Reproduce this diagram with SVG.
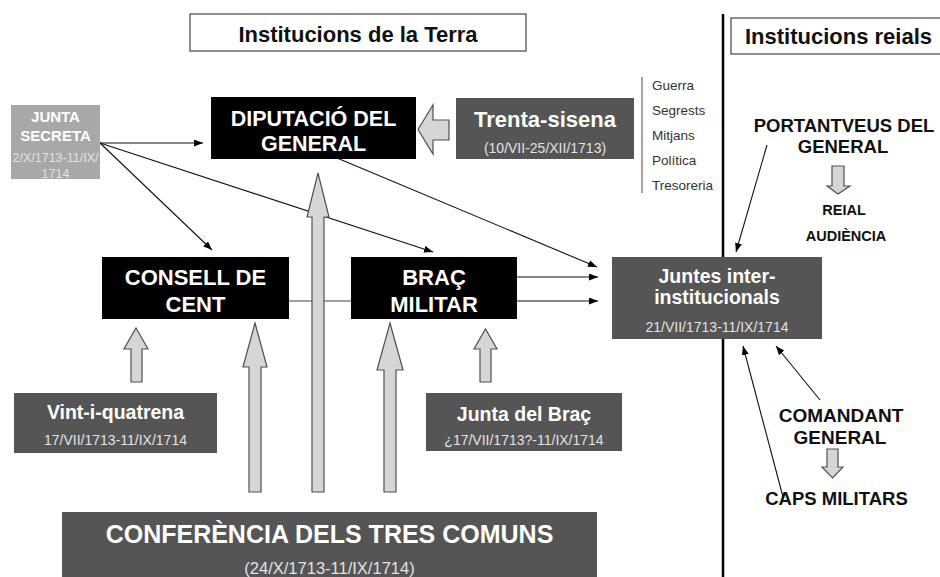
<svg xmlns="http://www.w3.org/2000/svg" width="940" height="577" viewBox="0 0 940 577">
<defs>
<style>
.t{font-family:"Liberation Sans",Arial,sans-serif;text-anchor:middle}
.b{font-weight:bold}
.w{fill:#fff}
.d{fill:#e2e2e2}
.k{fill:#111}
.blk{fill:#000}
.dg{fill:#555}
.ba{fill:#d6d6d6;stroke:#505050;stroke-width:1.2;stroke-linejoin:miter}
.ln{stroke:#111;stroke-width:1.1;fill:none}
.ttl{fill:#fff;stroke:#444;stroke-width:1.2}
</style>
<marker id="ah" viewBox="0 0 9 7" refX="9" refY="3.5" markerWidth="9" markerHeight="7" markerUnits="userSpaceOnUse" orient="auto">
<path d="M0,0 L9,3.5 L0,7 z" fill="#000"/>
</marker>
</defs>
<rect width="940" height="577" fill="#fff"/>

<g id="divider">
<line x1="723" y1="14" x2="723" y2="577" stroke="#000" stroke-width="2.5"/>
</g>

<g id="title-terra">
<rect class="ttl" x="190" y="14" width="336" height="37"/>
<text class="t b k" x="358" y="42" font-size="22">Institucions de la Terra</text>
</g>
<g id="title-reials">
<rect class="ttl" x="731" y="18" width="212" height="36"/>
<text class="t b k" x="838.5" y="43.5" font-size="22">Institucions reials</text>
</g>

<g id="connectors">
<line class="ln" x1="100" y1="143" x2="203" y2="143" marker-end="url(#ah)"/>
<line class="ln" x1="100" y1="143" x2="212" y2="250" marker-end="url(#ah)"/>
<line class="ln" x1="100" y1="143" x2="433" y2="252" marker-end="url(#ah)"/>
<line class="ln" x1="337" y1="158" x2="597" y2="267" marker-end="url(#ah)"/>
<line class="ln" x1="517" y1="277" x2="598" y2="277" marker-end="url(#ah)"/>
<line class="ln" x1="517" y1="301" x2="598" y2="301" marker-end="url(#ah)"/>
<line x1="289" y1="301" x2="351" y2="301" stroke="#444" stroke-width="1.2"/>
<line class="ln" x1="767" y1="145" x2="736" y2="252" marker-end="url(#ah)"/>
<line class="ln" x1="820" y1="400" x2="776" y2="346" marker-end="url(#ah)"/>
<line class="ln" x1="783" y1="497" x2="743" y2="346" marker-end="url(#ah)"/>
</g>

<g id="block-arrows">
<polygon class="ba" points="418,129.5 433,105 433,120 449,120 449,140 433,140 433,154"/>
<polygon class="ba" points="318,173 329,217 324,217 324,492 312,492 312,217 307,217"/>
<polygon class="ba" points="255,323 267,367 261,367 261,492 249,492 249,367 243,367"/>
<polygon class="ba" points="390,323 403,370 396,370 396,492 384,492 384,370 377,370"/>
<polygon class="ba" points="136,328 148,349 142,349 142,382 131,382 131,349 124,349"/>
<polygon class="ba" points="485.5,329 497,349 491,349 491,382 480,382 480,349 474,349"/>
<polygon class="ba" points="832,166 844,166 844,186 850,186 838,194 827,186 832,186"/>
<polygon class="ba" points="827,449 838,449 838,467 843,467 832.5,478 822,467 827,467"/>
</g>

<g id="junta-secreta">
<rect x="11" y="105" width="89" height="74" fill="#a8a8a8"/>
<text class="t b w" x="55.5" y="122" font-size="15">JUNTA</text>
<text class="t b w" x="55.5" y="141" font-size="15">SECRETA</text>
<text class="t d" x="55.5" y="162" font-size="12.5">2/X/1713-11/IX/</text>
<text class="t d" x="55.5" y="178" font-size="12.5">1714</text>
</g>

<g id="diputacio">
<rect class="blk" x="211" y="97" width="205" height="62"/>
<text class="t b w" x="313.5" y="125.5" font-size="21.5">DIPUTACIÓ DEL</text>
<text class="t b w" x="313.5" y="151" font-size="21.5">GENERAL</text>
</g>

<g id="trenta-sisena">
<rect class="dg" x="456" y="98" width="178" height="61"/>
<text class="t b w" x="545" y="126.5" font-size="22">Trenta-sisena</text>
<text class="t d" x="545" y="153" font-size="14">(10/VII-25/XII/1713)</text>
</g>

<g id="comissions">
<line x1="642" y1="77" x2="642" y2="193" stroke="#666" stroke-width="1.2"/>
<g font-family="Liberation Sans,Arial,sans-serif" font-size="13.5" fill="#333">
<text x="652" y="90">Guerra</text>
<text x="652" y="115">Segrests</text>
<text x="652" y="140">Mitjans</text>
<text x="652" y="165">Política</text>
<text x="652" y="190">Tresoreria</text>
</g>
</g>

<g id="consell-de-cent">
<rect class="blk" x="102" y="257" width="187" height="62"/>
<text class="t b w" x="195.5" y="285" font-size="22">CONSELL DE</text>
<text class="t b w" x="195.5" y="312" font-size="22">CENT</text>
</g>

<g id="brac-militar">
<rect class="blk" x="351" y="257" width="166" height="62"/>
<text class="t b w" x="434" y="285" font-size="22">BRAÇ</text>
<text class="t b w" x="434" y="312" font-size="22">MILITAR</text>
</g>

<g id="juntes">
<rect class="dg" x="612" y="257" width="210" height="82"/>
<text class="t b w" x="717" y="283" font-size="19.5">Juntes inter-</text>
<text class="t b w" x="717" y="304" font-size="19.5">institucionals</text>
<text class="t d" x="717" y="332" font-size="14">21/VII/1713-11/IX/1714</text>
</g>

<g id="vint-i-quatrena">
<rect class="dg" x="14" y="393" width="203" height="60"/>
<text class="t b w" x="115.5" y="419" font-size="19.5">Vint-i-quatrena</text>
<text class="t d" x="115.5" y="445" font-size="14">17/VII/1713-11/IX/1714</text>
</g>

<g id="junta-del-brac">
<rect class="dg" x="426" y="393" width="196" height="58"/>
<text class="t b w" x="524" y="421" font-size="19.5">Junta del Braç</text>
<text class="t d" x="524" y="445" font-size="14">¿17/VII/1713?-11/IX/1714</text>
</g>

<g id="conferencia">
<rect class="dg" x="62" y="512" width="535" height="70"/>
<text class="t b w" x="329.5" y="543" font-size="25">CONFERÈNCIA DELS TRES COMUNS</text>
<text class="t d" x="329.5" y="574" font-size="16.5">(24/X/1713-11/IX/1714)</text>
</g>

<g id="portantveus">
<text class="t b k" x="844" y="132" font-size="18.5">PORTANTVEUS DEL</text>
<text class="t b k" x="843" y="153" font-size="18.5">GENERAL</text>
</g>

<g id="reial-audiencia">
<text class="t b k" x="844" y="215" font-size="14.5">REIAL</text>
<text class="t b k" x="846" y="241" font-size="14.5">AUDIÈNCIA</text>
</g>

<g id="comandant">
<text class="t b k" x="841" y="422" font-size="19">COMANDANT</text>
<text class="t b k" x="840" y="444" font-size="19">GENERAL</text>
</g>

<g id="caps-militars">
<text class="t b k" x="836.5" y="505" font-size="18.5">CAPS MILITARS</text>
</g>
</svg>
